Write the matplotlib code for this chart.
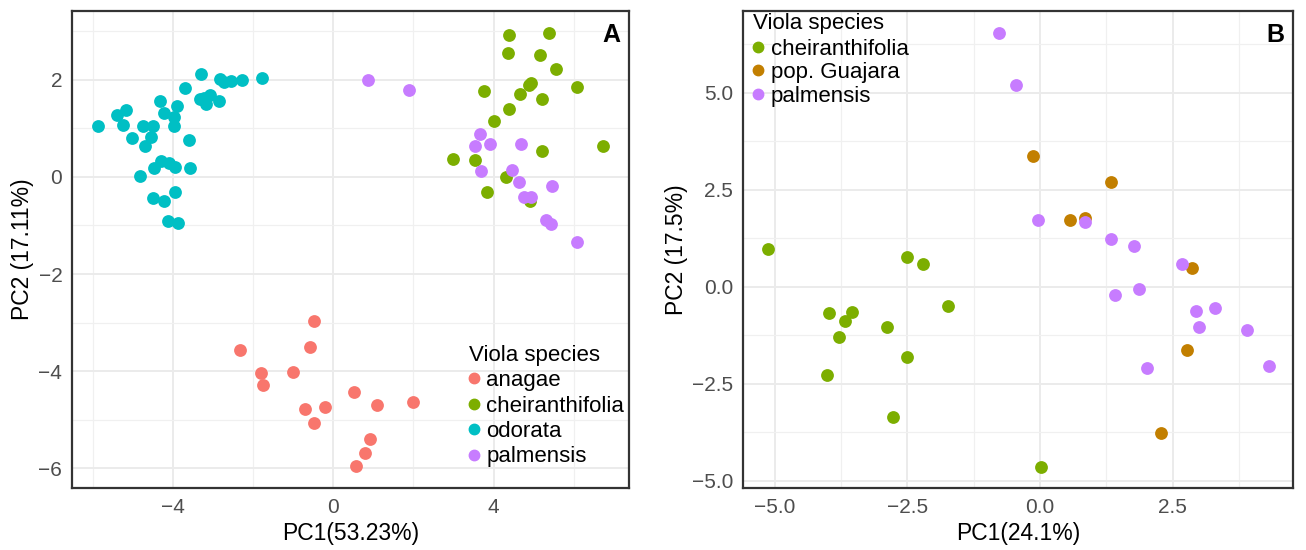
import numpy as np
import matplotlib
matplotlib.use('Agg')
import matplotlib.pyplot as plt
from matplotlib.ticker import MultipleLocator, FuncFormatter
from matplotlib.lines import Line2D

plt.rcParams['font.family'] = ['Liberation Sans', 'DejaVu Sans']

# Panel A: PCA of four Viola species
a_species = ['anagae', 'cheiranthifolia', 'odorata', 'palmensis']
a_colors = ['#F8766D', '#7CAE00', '#00BFC4', '#C77CFF']

anagae_x = [-2.32, -0.49, -0.57, -1.80, -1.76, -1.01, -0.70, -0.20, -0.49, 0.51, 0.57, 1.10, 1.98, 0.92, 0.80]
anagae_y = [-3.56, -2.97, -3.50, -4.03, -4.29, -4.02, -4.78, -4.75, -5.07, -4.43, -5.96, -4.69, -4.64, -5.40, -5.69]

cheir_a_x = [4.39, 5.38, 4.35, 5.16, 5.55, 3.77, 4.89, 4.93, 4.66, 5.21, 6.08, 4.38, 4.01, 6.73, 5.21, 3.00, 3.54, 4.31, 3.84, 4.92]
cheir_a_y = [2.92, 2.97, 2.56, 2.52, 2.22, 1.77, 1.89, 1.94, 1.71, 1.60, 1.86, 1.40, 1.16, 0.64, 0.53, 0.37, 0.35, -0.01, -0.32, -0.49]

odorata_x = [-5.86, -5.40, -5.18, -5.24, -5.03, -4.75, -4.49, -4.56, -4.70, -4.33, -4.23, -3.98, -3.98,
             -3.89, -3.69, -3.60, -3.31, -3.33, -3.17, -3.08, -3.23, -2.86, -2.83, -2.73, -2.54, -2.29,
             -1.79, -4.48, -4.29, -4.10, -3.94, -3.58, -4.83, -3.94, -4.50, -4.23, -4.13, -3.88]
odorata_y = [1.05, 1.28, 1.38, 1.07, 0.80, 1.04, 1.04, 0.82, 0.64, 1.56, 1.31, 1.23, 1.05,
             1.46, 1.83, 0.76, 2.12, 1.60, 1.50, 1.69, 1.63, 1.56, 2.02, 1.95, 1.98, 2.00,
             2.04, 0.18, 0.32, 0.28, 0.21, 0.18, 0.02, -0.30, -0.44, -0.49, -0.91, -0.94]

palm_a_x = [0.86, 1.90, 3.66, 3.54, 3.91, 4.68, 3.69, 4.47, 4.63, 5.47, 4.76, 4.93, 5.31, 5.43, 6.07]
palm_a_y = [2.00, 1.80, 0.88, 0.64, 0.67, 0.67, 0.13, 0.14, -0.10, -0.19, -0.41, -0.41, -0.88, -0.97, -1.34]

# Panel B: cheiranthifolia, pop. Guajara, palmensis
b_species = ['cheiranthifolia', 'pop. Guajara', 'palmensis']
b_colors = ['#7CAE00', '#C27F00', '#C77CFF']

cheir_b_x = [-5.13, -2.50, -2.21, -3.98, -3.68, -3.54, -3.79, -2.89, -1.74, -2.50, -4.02, -2.78, 0.02]
cheir_b_y = [0.98, 0.75, 0.57, -0.69, -0.88, -0.66, -1.29, -1.05, -0.49, -1.82, -2.29, -3.37, -4.64]

guaj_x = [-0.14, 1.34, 0.57, 0.85, 2.86, 2.78, 2.28]
guaj_y = [3.36, 2.69, 1.71, 1.77, 0.48, -1.64, -3.78]

palm_b_x = [-0.77, -0.46, -0.04, 0.85, 1.34, 1.77, 2.67, 1.42, 1.87, 2.94, 3.30, 2.99, 3.90, 2.01, 4.31]
palm_b_y = [6.54, 5.20, 1.71, 1.67, 1.22, 1.04, 0.57, -0.22, -0.07, -0.62, -0.56, -1.05, -1.12, -2.11, -2.04]


def minus_fmt(fmt):
    return FuncFormatter(lambda v, p: (fmt % v).replace('-', '\u2212'))


def style_axes(ax, major, minor):
    ax.set_facecolor('white')
    ax.xaxis.set_major_locator(MultipleLocator(major[0]))
    ax.xaxis.set_minor_locator(MultipleLocator(minor[0]))
    ax.yaxis.set_major_locator(MultipleLocator(major[1]))
    ax.yaxis.set_minor_locator(MultipleLocator(minor[1]))
    ax.grid(which='major', color='#EBEBEB', linewidth=1.4, zorder=0)
    ax.grid(which='minor', color='#F0F0F0', linewidth=0.9, zorder=0)
    ax.set_axisbelow(True)
    for s in ax.spines.values():
        s.set_linewidth(1.6)
        s.set_color('#333333')
    ax.tick_params(which='both', length=0, labelsize=15, labelcolor='#4D4D4D', pad=7)


def add_legend(ax, names, colors, anchor, spacing):
    handles = [Line2D([], [], marker='o', linestyle='', markersize=7.5, color=c) for c in colors]
    leg = ax.legend(handles, names, title='Viola species', loc='upper left', bbox_to_anchor=anchor,
                    frameon=False, fontsize=16, title_fontsize=16, borderaxespad=0, borderpad=0,
                    handlelength=0.5, handletextpad=0.3, labelspacing=spacing)
    leg._legend_box.align = 'left'
    leg._legend_box.sep = 3
    return leg


fig = plt.figure(figsize=(13.06, 5.5), dpi=100)
axA = fig.add_axes([72 / 1306, 62 / 550, 557 / 1306, 477 / 550])
axB = fig.add_axes([743 / 1306, 62 / 550, 550 / 1306, 477 / 550])

ms = 85
axA.scatter(anagae_x, anagae_y, s=ms, color=a_colors[0], linewidths=0, zorder=3)
axA.scatter(cheir_a_x, cheir_a_y, s=ms, color=a_colors[1], linewidths=0, zorder=3)
axA.scatter(odorata_x, odorata_y, s=ms, color=a_colors[2], linewidths=0, zorder=3)
axA.scatter(palm_a_x, palm_a_y, s=ms, color=a_colors[3], linewidths=0, zorder=3)
style_axes(axA, (4, 2), (2, 1))
axA.set_xlim(-6.52, 7.38)
axA.set_ylim(-6.41, 3.42)
axA.xaxis.set_major_formatter(minus_fmt('%d'))
axA.yaxis.set_major_formatter(minus_fmt('%d'))
axA.set_xlabel('PC1(53.23%)', fontsize=16.5, labelpad=4)
axA.set_ylabel('PC2 (17.11%)', fontsize=16.5, labelpad=3)
axA.text(0.985, 0.975, 'A', transform=axA.transAxes, ha='right', va='top', fontsize=18, fontweight='bold')
add_legend(axA, a_species, a_colors, (0.712, 0.30), 0.2)

axB.scatter(cheir_b_x, cheir_b_y, s=ms, color=b_colors[0], linewidths=0, zorder=3)
axB.scatter(guaj_x, guaj_y, s=ms, color=b_colors[1], linewidths=0, zorder=3)
axB.scatter(palm_b_x, palm_b_y, s=ms, color=b_colors[2], linewidths=0, zorder=3)
style_axes(axB, (2.5, 2.5), (1.25, 1.25))
axB.set_xlim(-5.60, 4.77)
axB.set_ylim(-5.19, 7.10)
axB.xaxis.set_major_formatter(minus_fmt('%.1f'))
axB.yaxis.set_major_formatter(minus_fmt('%.1f'))
axB.set_xlabel('PC1(24.1%)', fontsize=16.5, labelpad=4)
axB.set_ylabel('PC2 (17.5%)', fontsize=16.5, labelpad=3)
axB.text(0.985, 0.975, 'B', transform=axB.transAxes, ha='right', va='top', fontsize=18, fontweight='bold')
add_legend(axB, b_species, b_colors, (0.018, 0.995), 0.12)

fig.savefig('out.png', dpi=100, facecolor='white')
